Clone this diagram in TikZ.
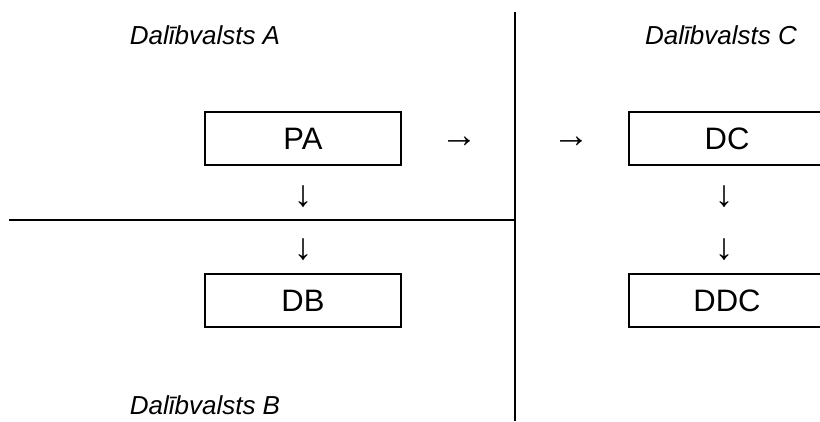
\documentclass[tikz,border=0pt]{standalone}
\usepackage{fontspec}
\setmainfont{Liberation Sans}
\begin{document}
\begin{tikzpicture}[x=1pt,y=-1pt,
  statebox/.style={draw, line width=2pt, minimum width=196pt, minimum height=53pt,
    inner sep=0pt, font=\fontsize{31}{37}\selectfont},
  glyph/.style={inner sep=0pt, font=\fontsize{37}{44}\selectfont},
  region/.style={inner sep=0pt, font=\fontsize{26}{31}\selectfont\itshape},
  divider/.style={line width=2pt}]
\useasboundingbox (0,0) rectangle (820,421);
\clip (0,0) rectangle (820,421);

% borders between the member states
\coordinate (vtop) at (515,12);
\coordinate (vbot) at (515,421);
\coordinate (hleft) at (9,220);
\coordinate (hright) at (515,220);
\draw[divider] (vtop) -- (vbot);
\draw[divider] (hleft) -- (hright);

% member state labels
\node[region] (stateA) at (205,35) {Dalībvalsts A};
\node[region] (stateC) at (721,35) {Dalībvalsts C};
\node[region] (stateB) at (205,405) {Dalībvalsts B};

% institutions
\node[statebox] (PA) at (303,138.5) {PA};
\node[statebox] (DB) at (303,300.5) {DB};
\node[statebox] (DC) at (727,138.5) {DC};
\node[statebox] (DDC) at (727,300.5) {DDC};

% flow marks
\node[glyph] (toC1) at (459,142) {→};
\node[glyph] (toC2) at (571,142) {→};
\node[glyph] (toB1) at (303,197) {↓};
\node[glyph] (toB2) at (303,250) {↓};
\node[glyph] (toDDC1) at (724,197) {↓};
\node[glyph] (toDDC2) at (724,250) {↓};
\end{tikzpicture}
\end{document}
